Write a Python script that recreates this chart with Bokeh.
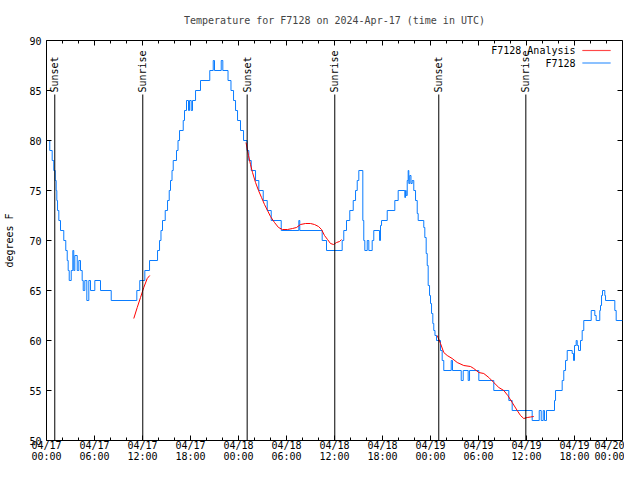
import math
import pandas as pd
from bokeh.plotting import figure
from bokeh.models import FixedTicker, DatetimeTickFormatter, Label, BoxAnnotation
from bokeh.core.properties import value
from bokeh.embed import file_html
from bokeh.resources import INLINE

TITLE = "Temperature for F7128 on 2024-Apr-17 (time in UTC)"
START = "2024-04-17 00:00"
END = "2024-04-20 00:00"
Y_LABEL = "degrees F"
SERIES_OBS = "F7128"
SERIES_AN = "F7128 Analysis"

# observed temperature: hours since START, value after the change (degrees F)
obs_hours = [0.00, 0.41, 0.71, 0.91, 1.09, 1.21, 1.29, 1.38, 1.54, 1.75, 2.16, 2.41, 2.59,
             2.71, 2.84, 3.09, 3.29, 3.41, 3.54, 3.84, 4.04, 4.25, 4.46, 4.59, 4.79, 5.04,
             5.29, 5.50, 6.04, 6.75, 8.09, 11.29, 11.66, 12.29, 12.88, 13.88, 14.13, 14.31,
             14.50, 14.84, 15.13, 15.34, 15.50, 15.69, 15.84, 16.25, 16.44, 16.63, 17.09,
             17.25, 17.50, 17.75, 17.88, 18.09, 18.25, 18.63, 19.25, 20.41, 20.84, 21.00,
             21.84, 22.04, 22.69, 23.06, 23.38, 23.63, 23.88, 24.25, 24.63, 25.06, 25.29,
             25.59, 26.13, 26.54, 27.09, 27.59, 28.09, 29.34, 31.54, 31.66, 34.46, 35.00,
             36.96, 37.16, 37.50, 37.91, 38.34, 38.63, 38.84, 39.04, 39.54, 39.66, 39.79,
             40.09, 40.29, 40.71, 40.91, 41.63, 41.75, 41.88, 42.59, 43.54, 43.96, 44.79,
             44.88, 44.96, 45.09, 45.21, 45.29, 45.41, 45.56, 45.71, 45.91, 46.13, 46.34,
             46.46, 47.16, 47.29, 47.46, 47.59, 47.71, 47.88, 48.00, 48.13, 48.29, 48.41,
             48.56, 48.75, 49.25, 49.46, 49.66, 50.59, 50.75, 51.84, 52.09, 52.71, 52.88,
             54.04, 55.91, 57.79, 58.21, 60.71, 61.59, 61.84, 62.09, 62.25, 62.50, 63.50,
             63.63, 64.46, 64.66, 64.88, 65.09, 65.71, 65.88, 66.00, 66.21, 66.34, 66.50,
             66.75, 66.96, 67.16, 68.09, 68.54, 68.71, 69.16, 69.25, 69.38, 69.50, 69.79,
             69.88, 71.04, 71.21, 72.00]
obs_temp = [80, 79, 78, 77, 76, 75, 74, 73, 72, 71, 70, 69, 68,
            67, 66, 67, 69, 67, 68.5, 67, 68, 67, 66, 65, 66, 64,
            66, 65, 66, 65, 64, 65, 66, 67, 68, 69, 70, 71,
            72, 73, 74, 75, 76, 77, 78, 79, 80, 81, 82,
            83, 84, 83, 84, 83, 84, 85, 86, 87, 88, 87,
            88, 87, 86, 85, 84, 83, 82, 81, 80, 79, 78,
            77, 76, 75, 74, 73, 72, 71, 72, 71, 70, 69,
            70, 71, 72, 73, 74, 75, 76, 77, 72, 70, 69,
            70, 69, 70, 71, 70, 71.5, 72, 73, 74, 75, 74.3,
            75, 74.5, 76, 77, 75.7, 76.5, 75.7, 76, 75, 74, 72.7,
            72, 71.3, 70.3, 68.7, 67.5, 65.5, 64.5, 63.7, 62.7, 61.7, 61,
            60.5, 60, 59, 58, 57, 58, 57, 56, 57, 56, 57,
            56, 55, 54, 53, 52, 53, 52, 53, 52, 53, 54,
            55, 56, 57, 58, 59, 58.7, 58, 59.5, 60, 59.5, 59,
            60, 61, 62, 63, 62.5, 62, 63, 63.5, 64.5, 65, 64.5,
            64, 63, 62, 62]

# analysis curve, three pieces
an1_hours = [10.91, 11.34, 11.75, 12.16, 12.59, 12.91]
an1_temp = [62.2, 63.3, 64.3, 65.3, 66.2, 66.5]
an2_hours = [24.94, 25.25, 25.50, 25.75, 26.13, 26.50, 26.88, 27.25, 27.63, 28.00, 28.50,
             29.00, 29.50, 30.13, 30.75, 31.25, 31.75, 32.38, 33.00, 33.50, 34.00, 34.38,
             34.75, 35.13, 35.50, 35.88, 36.25, 36.63, 36.88]
an2_temp = [79.8, 78.5, 77.6, 76.8, 75.8, 75.0, 74.3, 73.6, 73.0, 72.4, 71.8,
            71.3, 71.1, 71.1, 71.2, 71.3, 71.6, 71.7, 71.7, 71.6, 71.4, 71.1,
            70.5, 70.1, 69.7, 69.6, 69.8, 69.9, 70.1]
an3_hours = [48.84, 49.25, 49.66, 50.09, 50.71, 51.34, 52.16, 53.00, 53.41, 54.04, 54.66,
             55.29, 55.91, 56.54, 57.16, 57.66, 58.21, 58.84, 59.25, 59.66, 60.09, 60.50,
             60.91]
an3_temp = [60.5, 59.7, 58.8, 58.5, 58.2, 57.8, 57.5, 57.4, 57.2, 56.8, 56.7,
            56.3, 55.8, 55.3, 55.0, 54.5, 53.8, 53.0, 52.5, 52.2, 52.3, 52.35,
            52.4]

sunset_times = ["2024-04-17 01:02", "2024-04-18 01:05", "2024-04-19 01:02"]
sunrise_times = ["2024-04-17 12:02", "2024-04-18 12:02", "2024-04-19 11:55"]

y_ticks = [50, 55, 60, 65, 70, 75, 80, 85, 90]
x_major_hours = list(range(0, 73, 6))
x_minor_hours = list(range(0, 73, 2))

FONT = "DejaVu Sans Mono"
FS = "10px"
BLUE = "#0a7cff"
RED = "#ff0000"
Y_MIN, Y_MAX = 50.0, 90.0
MARK_TOP = 84.6      # sun marker lines stop below their labels
LABEL_Y = 84.8
TICK_MAJOR_Y = 0.5   # tick lengths on the top/bottom edges (degrees)
TICK_MINOR_Y = 0.3
TICK_MAJOR_X_H = 0.625  # tick length on the right edge (hours)

t0 = pd.Timestamp(START)
t1 = pd.Timestamp(END)


def at(hours):
    return t0 + pd.to_timedelta(pd.Series(hours, dtype=float), unit="h")


def ms(hours):
    return [(t0 + pd.Timedelta(hours=h) - pd.Timestamp("1970-01-01")) / pd.Timedelta(milliseconds=1)
            for h in hours]


p = figure(width=624, height=464, x_axis_type="datetime", x_range=(t0, t1), y_range=(Y_MIN, Y_MAX),
           output_backend="svg", toolbar_location=None,
           min_border_left=46, min_border_right=2, min_border_top=40, min_border_bottom=24,
           background_fill_color="white", border_fill_color="white")
p.title.text = TITLE
p.title.align = "center"
p.title.vertical_align = "top"
p.title.text_font = FONT
p.title.text_font_size = FS
p.title.text_font_style = "normal"
p.title.standoff = 26
p.grid.visible = False
p.outline_line_color = "black"
p.outline_line_width = 1

p.step(at(obs_hours), obs_temp, mode="after", line_color=BLUE, line_width=1)
for hh, tt in ((an1_hours, an1_temp), (an2_hours, an2_temp), (an3_hours, an3_temp)):
    p.line(at(hh), tt, line_color=RED, line_width=1)

sun_x = pd.to_datetime(sunset_times + sunrise_times)
sun_text = ["Sunset"] * len(sunset_times) + ["Sunrise"] * len(sunrise_times)
p.segment(x0=sun_x, y0=[Y_MIN] * len(sun_x), x1=sun_x, y1=[MARK_TOP] * len(sun_x),
          line_color="black", line_width=1)
p.text(x=sun_x, y=[LABEL_Y] * len(sun_x), text=sun_text, angle=math.pi / 2,
       text_align="left", text_baseline="middle", text_font=value(FONT),
       text_font_size=FS, text_color="black")

# gnuplot style ticks on top and bottom (major + minor) and right edges, all pointing inward
maj = at(x_major_hours)
mnr = at(x_minor_hours)
for edge, sign in ((Y_MAX, -1), (Y_MIN, 1)):
    p.segment(x0=maj, y0=[edge] * len(maj), x1=maj, y1=[edge + sign * TICK_MAJOR_Y] * len(maj),
              line_color="black", line_width=1)
    p.segment(x0=mnr, y0=[edge] * len(mnr), x1=mnr, y1=[edge + sign * TICK_MINOR_Y] * len(mnr),
              line_color="black", line_width=1)
right_x0 = [t1] * len(y_ticks)
right_x1 = [t1 - pd.Timedelta(hours=TICK_MAJOR_X_H)] * len(y_ticks)
p.segment(x0=right_x0, y0=y_ticks, x1=right_x1, y1=y_ticks, line_color="black", line_width=1)

fmt = "%m/%d\n%H:%M"
p.xaxis.ticker = FixedTicker(ticks=ms(x_major_hours), minor_ticks=[])
p.xaxis.formatter = DatetimeTickFormatter(microseconds=fmt, milliseconds=fmt, seconds=fmt,
                                          minsec=fmt, minutes=fmt, hourmin=fmt, hours=fmt,
                                          days=fmt, months=fmt, years=fmt,
                                          strip_leading_zeros=False)
p.yaxis.ticker = FixedTicker(ticks=y_ticks, minor_ticks=[])
p.yaxis.axis_label = Y_LABEL

for ax in p.axis:
    ax.axis_line_color = None
    ax.major_tick_in = 0
    ax.major_tick_out = 0
    ax.minor_tick_in = 0
    ax.minor_tick_out = 0
    ax.major_tick_line_color = "black"
    ax.major_label_text_font = FONT
    ax.major_label_text_font_size = FS
    ax.major_label_text_color = "black"
    ax.axis_label_text_font = FONT
    ax.axis_label_text_font_size = FS
    ax.axis_label_text_font_style = "normal"
    ax.axis_label_text_color = "black"

p.yaxis[0].major_tick_in = 5
p.yaxis[0].major_label_standoff = 5
p.yaxis[0].axis_label_standoff = 11
p.xaxis[0].major_label_standoff = -1
p.xaxis[0].major_label_text_line_height = 1.0

# legend in gnuplot style: text then sample line (screen units inside the plot area)
for txt, yy in ((SERIES_AN, 390), (SERIES_OBS, 377.5)):
    p.add_layout(Label(x=529, y=yy, x_units="screen", y_units="screen", text=txt,
                       text_align="right", text_baseline="middle", text_font=FONT,
                       text_font_size=FS, text_color="black"))
p.add_layout(BoxAnnotation(left=536, right=564, bottom=389.8, top=390.2, left_units="screen",
                           right_units="screen", bottom_units="screen", top_units="screen",
                           fill_color=RED, fill_alpha=1, line_color=RED, line_width=1))
p.add_layout(BoxAnnotation(left=536, right=564, bottom=377.3, top=377.7, left_units="screen",
                           right_units="screen", bottom_units="screen", top_units="screen",
                           fill_color=BLUE, fill_alpha=1, line_color=BLUE, line_width=1))

open("out.html", "w").write(file_html(p, INLINE))
